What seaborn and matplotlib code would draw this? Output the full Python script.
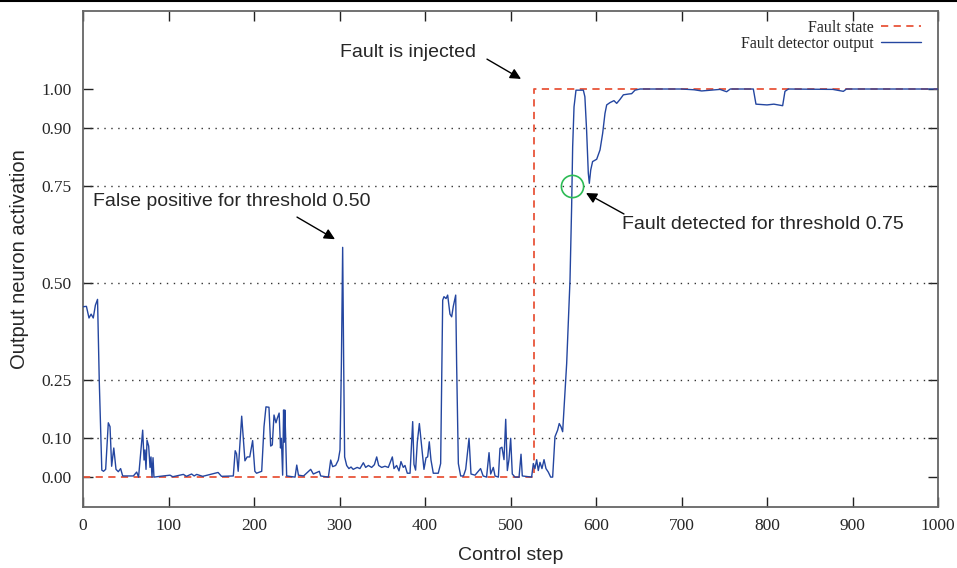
import matplotlib
matplotlib.use("Agg")
import matplotlib.pyplot as plt
import seaborn as sns
import pandas as pd
from matplotlib.lines import Line2D

# ---------------- data ----------------
step = [0, 4, 7, 9.5, 12, 14.5, 17, 19, 22, 24, 26.5, 29.6, 31.6, 33.5, 36, 38.6, 41.3, 44, 46.4,
        58.9, 62.8, 65, 69.8, 71.4, 72.5, 73.7, 74.9, 76.8, 78.4, 79.5, 80.7, 81.9, 83, 90,
        101.8, 105, 117.4, 121, 127, 130, 133, 140, 158, 162, 175.8, 178, 179.6, 181.5, 185.6,
        187.5, 189.4, 192, 195, 198.4, 201, 203, 209, 211.7, 214, 217.5, 219.5, 221.4, 223.4,
        225.7, 227, 229.4, 231, 232, 233.5, 234.6, 235.3, 236, 236.8, 238.2, 248, 250, 252,
        258, 266.3, 269.4, 276.4, 278, 287, 289.7, 292, 295.5, 298.6, 300.6, 302.2, 303.7,
        304.9, 306, 308.4, 311, 313.5, 316, 320.7, 323.9, 327.9, 330.6, 333.8, 337.6, 340.8,
        343.5, 345.8, 349.3, 353.2, 357.1, 361.8, 363.7, 366.8, 369.6, 371.9, 374.6, 376.6,
        379.3, 382.5, 385.6, 387.1, 389, 391, 393.4, 396, 398.8, 401.2, 403.1, 405, 407, 409.7,
        415.5, 418.3, 420.7, 422.2, 424.6, 426.5, 429.2, 431.2, 433.1, 435.9, 437, 439, 441.7,
        445, 447.6, 450.6, 451.5, 453.8, 458.5, 465, 468, 472, 474.9, 476.8, 479.9, 481.9,
        485.8, 487.7, 490, 492.4, 494.4, 496.3, 498.2, 500.2, 502.1, 505.3, 510, 512.3, 513.8,
        524.7, 526.7, 528.6, 530.6, 532.5, 534.5, 536.8, 539.2, 541.5, 544.2, 547, 549.3, 552,
        555.1, 557, 559, 561, 565.7, 569.6, 571.5, 572.7, 574.3, 576.6, 585.2, 587, 589, 591,
        592.2, 593.8, 596, 600.8, 604.7, 607.8, 610.5, 612.5, 616.4, 621, 624.2, 628, 632,
        637.8, 641.7, 645.6, 651.5, 700, 715, 723.6, 745, 752.8, 757, 784, 787.1, 800, 808,
        818.3, 821, 825, 877, 889.3, 893, 1000]
detector = [0.439, 0.44, 0.41, 0.42, 0.41, 0.443, 0.458, 0.25, 0.018, 0.015, 0.02, 0.14, 0.13,
            0.028, 0.075, 0.02, 0.014, 0.022, 0.003, 0.003, 0.013, 0.0, 0.121, 0.044, 0.07, 0.02,
            0.095, 0.08, 0.025, 0.052, 0.0, 0.05, 0.0, 0.002, 0.005, 0.001, 0.007, 0.002, 0.008,
            0.003, 0.007, 0.002, 0.012, 0.002, 0.003, 0.068, 0.06, 0.015, 0.157, 0.1, 0.042,
            0.052, 0.052, 0.094, 0.015, 0.01, 0.015, 0.13, 0.181, 0.18, 0.08, 0.083, 0.16, 0.14,
            0.15, 0.165, 0.075, 0.1, 0.005, 0.173, 0.09, 0.173, 0.12, 0.003, 0.0, 0.031, 0.005,
            0.003, 0.02, 0.008, 0.015, 0.003, 0.0, 0.044, 0.027, 0.03, 0.044, 0.07, 0.29, 0.592,
            0.29, 0.052, 0.03, 0.022, 0.026, 0.02, 0.025, 0.022, 0.037, 0.025, 0.03, 0.025,
            0.032, 0.052, 0.03, 0.025, 0.028, 0.025, 0.052, 0.022, 0.03, 0.016, 0.04, 0.025,
            0.03, 0.01, 0.01, 0.143, 0.033, 0.018, 0.09, 0.138, 0.08, 0.02, 0.05, 0.052, 0.091,
            0.044, 0.01, 0.01, 0.035, 0.456, 0.465, 0.46, 0.469, 0.42, 0.413, 0.44, 0.469, 0.29,
            0.035, 0.003, 0.003, 0.02, 0.08, 0.1, 0.008, 0.005, 0.022, 0.003, 0.0, 0.063, 0.008,
            0.025, 0.003, 0.0, 0.074, 0.077, 0.045, 0.149, 0.017, 0.045, 0.1, 0.008, 0.0, 0.0,
            0.059, 0.003, 0.0, 0.035, 0.022, 0.045, 0.017, 0.038, 0.022, 0.045, 0.022, 0.013,
            0.0, 0.0, 0.104, 0.121, 0.138, 0.13, 0.117, 0.293, 0.508, 0.697, 0.851, 0.954, 0.997,
            0.997, 0.98, 0.894, 0.783, 0.757, 0.791, 0.813, 0.819, 0.843, 0.886, 0.937, 0.959,
            0.965, 0.97, 0.963, 0.973, 0.985, 0.987, 0.988, 0.997, 1.0, 1.0, 0.998, 0.995, 0.999,
            0.993, 1.0, 1.0, 0.961, 0.959, 0.961, 0.957, 0.994, 1.0, 0.999, 0.994, 1.0, 1.0]

fault_step = [0, 527, 527, 1000]
fault_state = [0, 0, 1, 1]

x_ticks = [0, 100, 200, 300, 400, 500, 600, 700, 800, 900, 1000]
y_ticks = [0.0, 0.10, 0.25, 0.50, 0.75, 0.90, 1.00]
y_tick_labels = ["0.00", "0.10", "0.25", "0.50", "0.75", "0.90", "1.00"]
grid_levels = [0.10, 0.25, 0.50, 0.75, 0.90]

# ---------------- style ----------------
sns.set_theme(style="ticks")
plt.rcParams["font.family"] = ["Liberation Sans", "DejaVu Sans"]

SERIF = ["Liberation Serif", "DejaVu Serif"]
RED = "#e8553a"
BLUE = "#2446a0"

fig = plt.figure(figsize=(9.57, 5.68), dpi=100)
ax = fig.add_axes([83 / 957, 1 - 507 / 568, (938 - 83) / 957, (507 - 11) / 568])

df_det = pd.DataFrame({"step": step, "value": detector})
df_fault = pd.DataFrame({"step": fault_step, "value": fault_state})

for g in grid_levels:
    ax.axhline(g, color="#333333", lw=1.0, ls=(0, (1, 4)), zorder=1)

sns.lineplot(data=df_fault, x="step", y="value", sort=False, estimator=None, ax=ax,
             color=RED, lw=1.3, dashes=False, zorder=2)
ax.lines[-1].set_linestyle((0, (4, 3)))
sns.lineplot(data=df_det, x="step", y="value", sort=False, estimator=None, ax=ax,
             color=BLUE, lw=1.0, zorder=3)

ax.set_xlim(0, 1000)
ax.set_ylim(-0.077, 1.201)
ax.set_xticks(x_ticks)
ax.set_xticklabels([str(t) for t in x_ticks], family=SERIF, fontsize=12.5)
ax.set_yticks(y_ticks)
ax.set_yticklabels(y_tick_labels, family=SERIF, fontsize=12.5)
ax.tick_params(direction="in", length=7, width=1, top=True, right=True, color="#222222",
               pad=8)

for s in ax.spines.values():
    s.set_color("#666666")
    s.set_linewidth(1.3)

ax.set_xlabel("Control step", fontsize=14, labelpad=9)
ax.set_ylabel("Output neuron activation", fontsize=14.5, labelpad=9)

# green circle marking detection
ax.plot([571.5], [0.75], marker="o", ms=16, mfc="none", mec="#2dbb55", mew=1.2, zorder=4)

# annotations
arrow = dict(arrowstyle="-|>", color="black", lw=1.0, mutation_scale=16, shrinkA=0, shrinkB=0)
ax.text(300.6, 1.095, "Fault is injected", fontsize=14, ha="left", va="center")
ax.annotate("", xy=(512.3, 1.026), xytext=(472.5, 1.077), arrowprops=arrow)
ax.text(11.7, 0.711, "False positive for threshold 0.50", fontsize=14, ha="left", va="center")
ax.annotate("", xy=(294.7, 0.613), xytext=(250.3, 0.670), arrowprops=arrow)
ax.text(630.4, 0.652, "Fault detected for threshold 0.75", fontsize=14, ha="left", va="center")
ax.annotate("", xy=(588.3, 0.732), xytext=(632.7, 0.678), arrowprops=arrow)

handles = [Line2D([], [], color=RED, lw=1.3, ls=(0, (4, 3))),
           Line2D([], [], color=BLUE, lw=1.0)]
ax.legend(handles, ["Fault state", "Fault detector output"], loc="upper right",
          bbox_to_anchor=(0.988, 0.995), frameon=False, markerfirst=False,
          prop={"family": SERIF, "size": 11.5}, labelspacing=0.0, handlelength=2.5,
          handletextpad=0.5, borderaxespad=0)

# thin rule across the very top of the figure
fig.add_artist(Line2D([0, 1], [1 - 1 / 568, 1 - 1 / 568], color="black", lw=1.5,
                      transform=fig.transFigure))

fig.savefig("out.png", dpi=100)
